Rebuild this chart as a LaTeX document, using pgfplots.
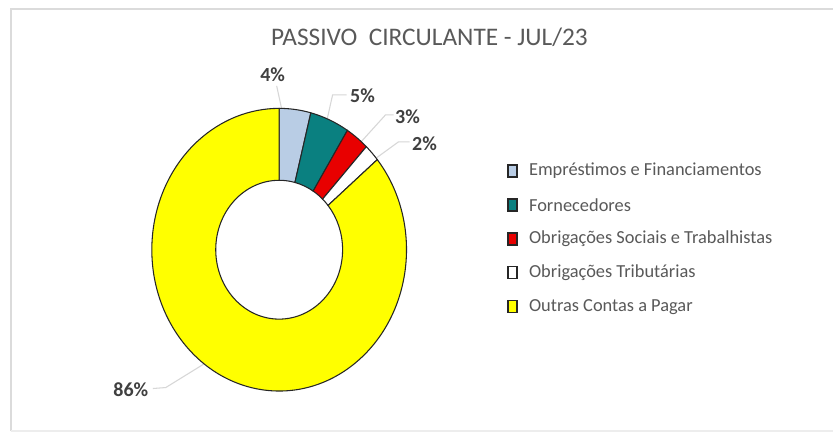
\documentclass[border=0pt]{standalone}
\usepackage{fontspec}
\setmainfont{Carlito}
\usepackage{pgfplots}
\usepackage{pgfplotstable}
\pgfplotsset{compat=1.18}

\definecolor{cEmp}{RGB}{185,205,229}
\definecolor{cFor}{RGB}{10,128,128}
\definecolor{cObs}{RGB}{232,0,0}
\definecolor{cObt}{RGB}{255,255,255}
\definecolor{cOut}{RGB}{255,255,0}
\definecolor{txtgray}{RGB}{89,89,89}
\definecolor{lblgray}{RGB}{64,64,64}
\definecolor{leader}{RGB}{215,215,215}

% share of each account (%), label position in pixels
\pgfplotstableread[col sep=comma]{
name,value,color,lx,ly
Empréstimos e Financiamentos,4,cEmp,273,75
Fornecedores,5,cFor,363,96
Obrigações Sociais e Trabalhistas,3,cObs,408,117
Obrigações Tributárias,2,cObt,425,144
Outras Contas a Pagar,86,cOut,131,390
}\donut

% donut geometry (pixels, y measured from top)
\def\cx{279.5}\def\cy{250}
\def\rxo{127.5}\def\ryo{141.5}
\def\rxi{63.5}\def\ryi{69.5}

\begin{document}
\begin{tikzpicture}
\begin{axis}[
  x=0.75pt, y=0.75pt,
  xmin=0, xmax=834, ymin=0, ymax=435,
  hide axis, clip=false,
]
\fill[white] (axis cs:0,0) rectangle (axis cs:834,435);
\draw[black!14, line width=1.5pt] (axis cs:11,3) -- (axis cs:11,426) -- (axis cs:834,426);
\draw[black!7, line width=1pt] (axis cs:11,3.5) -- (axis cs:834,3.5);

\node[font=\fontsize{19}{22}\selectfont, text=txtgray]
  at (axis cs:430,397.5) {PASSIVO\ \ CIRCULANTE - JUL/23};

% leader lines
\draw[leader, line width=0.8pt] (axis cs:277,435-86) -- (axis cs:292,435-155);
\draw[leader, line width=0.8pt] (axis cs:347,435-95) -- (axis cs:333,435-95) -- (axis cs:320,435-153);
\draw[leader, line width=0.8pt] (axis cs:394,435-115) -- (axis cs:386,435-115) -- (axis cs:357,435-147);
\draw[leader, line width=0.8pt] (axis cs:410,435-142) -- (axis cs:399,435-142) -- (axis cs:377,435-158);
\draw[leader, line width=0.8pt] (axis cs:153,435-389) -- (axis cs:166,435-388) -- (axis cs:234,435-346);

\pgfplotstablegetrowsof{\donut}
\pgfmathtruncatemacro\nrows{\pgfplotsretval-1}
\def\cum{0}
\pgfplotsforeachungrouped \i in {0,...,\nrows}{%
  \pgfplotstablegetelem{\i}{value}\of\donut \let\v\pgfplotsretval
  \pgfplotstablegetelem{\i}{color}\of\donut \let\c\pgfplotsretval
  \pgfplotstablegetelem{\i}{name}\of\donut \let\nm\pgfplotsretval
  \pgfplotstablegetelem{\i}{lx}\of\donut \let\lx\pgfplotsretval
  \pgfplotstablegetelem{\i}{ly}\of\donut \let\ly\pgfplotsretval
  \pgfmathsetmacro\aa{90-3.6*\cum}
  \pgfmathsetmacro\ab{90-3.6*(\cum+\v)}
  \pgfmathsetmacro\cum{\cum+\v}
  \pgfmathsetmacro\xa{\cx+\rxo*cos(\aa)}
  \pgfmathsetmacro\ya{435-\cy+\ryo*sin(\aa)}
  \pgfmathsetmacro\xb{\cx+\rxi*cos(\ab)}
  \pgfmathsetmacro\yb{435-\cy+\ryi*sin(\ab)}
  \pgfmathsetmacro\ry{435-171-34*\i}
  \edef\temp{%
    \noexpand\filldraw[fill=\c, draw=black!85, line width=0.8pt]
      (axis cs:\xa,\ya) arc[start angle=\aa, end angle=\ab,
        x radius=\rxo*0.75pt, y radius=\ryo*0.75pt]
      -- (axis cs:\xb,\yb) arc[start angle=\ab, end angle=\aa,
        x radius=\rxi*0.75pt, y radius=\ryi*0.75pt] -- cycle;
    \noexpand\node[font=\noexpand\fontsize{15}{18}\noexpand\selectfont\noexpand\bfseries,
      text=lblgray] at (axis cs:\lx,435-\ly) {\v\noexpand\%};
    \noexpand\filldraw[fill=\c, draw=black!85, line width=1.2pt]
      (axis cs:508.5,\ry-6) rectangle (axis cs:517.5,\ry+6);
    \noexpand\node[anchor=west, font=\noexpand\fontsize{13.8}{16}\noexpand\selectfont,
      text=txtgray] at (axis cs:525,\ry) {\nm};
  }%
  \temp
}
\end{axis}
\end{tikzpicture}
\end{document}
